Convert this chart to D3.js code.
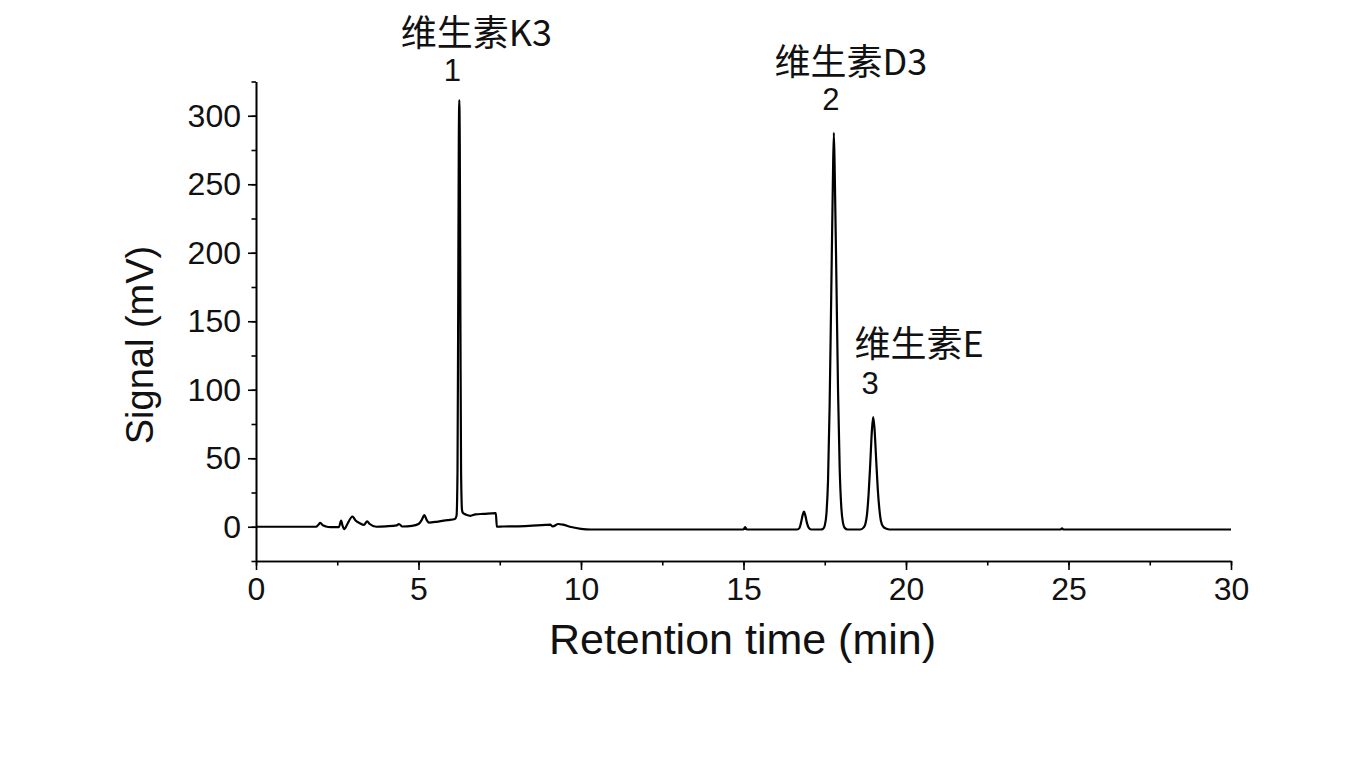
<!DOCTYPE html>
<html>
<head>
<meta charset="utf-8">
<script src="https://cdn.jsdelivr.net/npm/d3@7"></script>
<style>
  html, body { margin: 0; padding: 0; background: #ffffff; }
  svg { display: block; }
</style>
</head>
<body>
<svg id="chart" width="1364" height="769"></svg>
<script>
// ---- data ----
const timeMin = [
  0, 1.85, 1.92, 1.98, 2.05, 2.15, 2.3, 2.55, 2.62, 2.66, 2.72, 2.8, 2.97, 3.05, 3.2, 3.32, 3.42, 3.5, 3.7,
  4.0, 4.33, 4.4, 4.5, 4.8, 5.0, 5.1, 5.18, 5.25, 5.32, 5.6, 5.9, 6.12,
  6.17, 6.2, 6.22, 6.24, 6.255, 6.27, 6.29, 6.31, 6.34, 6.37,
  6.45, 6.6, 6.75, 7.0, 7.38, 7.41, 7.6, 8.0, 8.5, 8.9, 9.05, 9.13, 9.3, 9.45, 9.7, 10.0, 10.3,
  15.0, 15.05, 15.1,
  16.65, 16.72, 16.77, 16.82, 16.86, 16.9, 16.95, 17.0, 17.08,
  17.38, 17.45, 17.5, 17.55, 17.6, 17.65, 17.7, 17.75, 17.78, 17.81, 17.86, 17.91, 17.96, 18.01, 18.06, 18.12, 18.2,
  18.6, 18.7, 18.75, 18.8, 18.85, 18.9, 18.95, 18.99, 19.03, 19.08, 19.13, 19.18, 19.23, 19.3, 19.4, 19.5,
  24.75, 24.8, 24.85, 30
];
const signalMV = [
  0, 0, 1.5, 2.8, 1.2, 0.2, -0.3, -0.3, 4.5, 1, -1.8, 1.5, 7.5, 5, 2.5, 1.3, 4, 2, 0,
  0.3, 1, 2, 0.2, 0.6, 2, 5, 8.5, 5, 3, 3.8, 4.8, 5.7,
  8, 40, 150, 280, 311.5, 280, 150, 40, 12, 10,
  9, 8, 9, 9.4, 10, 0, 0.2, 0.3, 0.8, 1.3, 1.5, 0.2, 2, 1.5, -0.2, -1.5, -2,
  -2, -0.3, -2,
  -2, -1, 3, 8.5, 11, 8.5, 3, -0.5, -2,
  -2, -1.5, 1, 9, 33, 88, 170, 252, 287.6, 255, 178, 98, 42, 14, 3, -1, -2,
  -2, -0.5, 2, 9, 24, 46, 70, 80, 72, 50, 28, 13, 4, 0, -1.5, -2,
  -2, -1.2, -2, -2
];
const xTicks = [0, 5, 10, 15, 20, 25, 30];
const yTicks = [0, 50, 100, 150, 200, 250, 300];
const peakNames = ["维生素K3", "维生素D3", "维生素E"];
const peakNums = ["1", "2", "3"];
const peakTimes = [6.255, 17.78, 18.99];
const peakHeights = [311.5, 287.6, 80];
const xTitle = "Retention time (min)";
const yTitle = "Signal (mV)";

// ---- layout ----
const svg = d3.select("#chart");
const x = d3.scaleLinear().domain([0, 30]).range([256, 1231]);
const y = d3.scaleLinear().domain([-25, 325]).range([561, 81.5]);
const font = "'Liberation Sans', Arial, sans-serif";
const cjk = "'Noto Sans CJK SC', 'Liberation Sans', sans-serif";

// axes
const xAxis = d3.axisBottom(x).tickValues(xTicks).tickSize(9).tickSizeOuter(0).tickPadding(7);
const yAxis = d3.axisLeft(y).tickValues(yTicks).tickSize(8).tickSizeOuter(0).tickPadding(7);
const xMinor = d3.axisBottom(x).tickValues(d3.range(0, 30.01, 2.5)).tickSize(4.5).tickSizeOuter(0).tickFormat("");
const yMinor = d3.axisLeft(y).tickValues(d3.range(-25, 325.01, 25)).tickSize(4.5).tickSizeOuter(0).tickFormat("");

function styleAxis(g) {
  g.select(".domain").attr("stroke", "#000").attr("stroke-width", 1.6);
  g.selectAll(".tick line").attr("stroke", "#000").attr("stroke-width", 1.6);
  g.selectAll(".tick text").attr("fill", "#111").style("font-family", font).style("font-size", "32px");
}

svg.append("g").attr("transform", `translate(0,${y.range()[0]})`).call(xMinor).call(styleAxis);
svg.append("g").attr("transform", `translate(${x.range()[0]},0)`).call(yMinor).call(styleAxis);
svg.append("g").attr("transform", `translate(0,${y.range()[0]})`).call(xAxis).call(styleAxis);
svg.append("g").attr("transform", `translate(${x.range()[0]},0)`).call(yAxis).call(styleAxis);

// trace
const pts = timeMin.map((t, i) => [t, signalMV[i]]);
const line = d3.line().x(d => x(d[0])).y(d => y(d[1])).curve(d3.curveMonotoneX);
svg.append("path")
  .datum(pts)
  .attr("d", line)
  .attr("fill", "none")
  .attr("stroke", "#000")
  .attr("stroke-width", 2.2)
  .attr("stroke-linejoin", "round");

// axis titles
svg.append("text")
  .attr("x", (x.range()[0] + x.range()[1]) / 2 - 1)
  .attr("y", 654)
  .attr("text-anchor", "middle")
  .style("font-family", font).style("font-size", "43px").attr("fill", "#111")
  .text(xTitle);
svg.append("text")
  .attr("transform", "translate(153,345) rotate(-90)")
  .attr("text-anchor", "middle")
  .style("font-family", font).style("font-size", "38px").attr("fill", "#111")
  .text(yTitle);

// peak annotations (offsets relative to each apex)
const nameOffset = [[17, -54], [17, -58], [46, -60]];
const numOffset = [[-7, -19], [-3, -23], [-3, -23]];
peakNames.forEach((name, i) => {
  const px = x(peakTimes[i]), py = y(peakHeights[i]);
  svg.append("text")
    .attr("x", px + nameOffset[i][0]).attr("y", py + nameOffset[i][1])
    .attr("text-anchor", "middle")
    .style("font-family", cjk).style("font-size", "36px").attr("fill", "#111")
    .text(name);
  svg.append("text")
    .attr("x", px + numOffset[i][0]).attr("y", py + numOffset[i][1])
    .attr("text-anchor", "middle")
    .style("font-family", font).style("font-size", "31px").attr("fill", "#111")
    .text(peakNums[i]);
});
</script>
</body>
</html>
